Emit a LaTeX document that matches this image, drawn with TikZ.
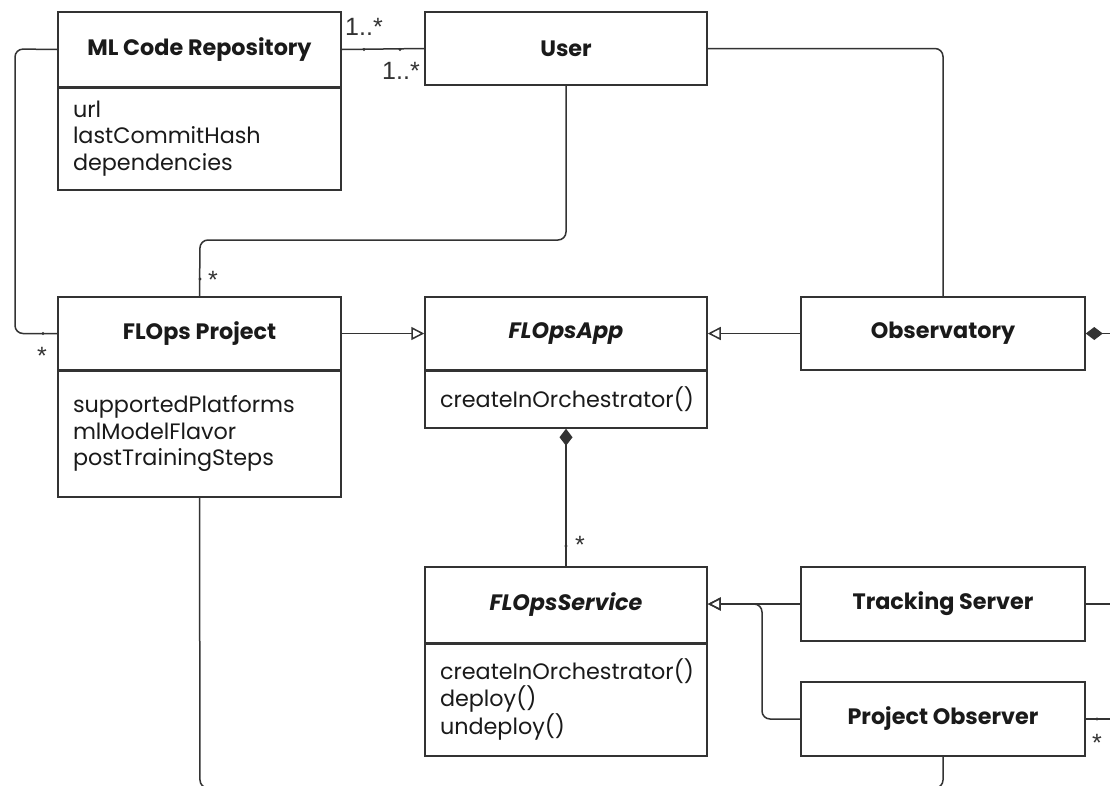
\documentclass[tikz,border=0pt]{standalone}
\usepackage{fontspec}
\setmainfont{Poppins}
\newfontfamily\multfont{Liberation Sans}
\usetikzlibrary{arrows.meta}
\definecolor{ln}{HTML}{333333}
\definecolor{tx}{HTML}{1A1A1A}
\tikzset{
 hdr/.style={draw=ln, line width=1.5pt, fill=white, font=\fontsize{22.3}{26}\selectfont\bfseries, text=tx, minimum width=283pt, inner sep=0pt},
 cbody/.style={draw=ln, line width=1.5pt, fill=white, font=\fontsize{22.3}{26.5}\selectfont, text=tx, minimum width=283pt, text width=253pt, inner xsep=15pt, inner ysep=0pt, align=left},
 divider/.style={draw=ln, line width=3.2pt},
 conn/.style={draw=ln, line width=1.5pt, rounded corners=8pt},
 gen/.style={conn, -{Triangle[open, length=13pt, width=13pt, line width=1.5pt]}},
 comp/.style={conn, {Diamond[length=17pt, width=13pt]}-},
 mult/.style={font=\multfont\fontsize{25}{27}\selectfont, text=ln, inner sep=0pt, anchor=north},
 tick/.style={fill=ln, circle, inner sep=0pt, minimum size=3.2pt}
}
\begin{document}
\begin{tikzpicture}[x=1pt,y=-1pt]
\useasboundingbox[fill=white] (0,0) rectangle (1110,785);
\clip (0,0) rectangle (1110,785);
\coordinate (lcorner) at (15,49);
\coordinate (bottomL) at (200,788);
\coordinate (bottomR) at (943,788);
\coordinate (eObs) at (1110,333.5);
\coordinate (eTS) at (1110,604);
\coordinate (ePO) at (1110,719);

% classes
\node[hdr, minimum height=75pt] (mlh) at (199.5,49.5) {ML Code Repository};
\node[cbody, minimum height=103pt] (mlb) at (199.5,138.5) {url\\lastCommitHash\\dependencies};
\node[hdr, minimum height=73pt, minimum width=282pt] (user) at (566,48.5) {User};
\node[hdr, minimum height=73pt] (fph) at (199.5,333.5) {FLOps Project};
\node[cbody, minimum height=127pt] (fpb) at (199.5,433.5) {supportedPlatforms\\mlModelFlavor\\postTrainingSteps};
\node[hdr, minimum height=73pt, minimum width=282pt] (apph) at (566,333.5) {\itshape FLOpsApp};
\node[cbody, minimum height=58pt, minimum width=282pt, text width=252pt] (appb) at (566,399) {createInOrchestrator()};
\node[hdr, minimum height=73pt, minimum width=284pt] (obs) at (943,333.5) {Observatory};
\node[hdr, minimum height=76pt, minimum width=282pt] (svch) at (566,605) {\itshape FLOpsService};
\node[cbody, minimum height=113pt, minimum width=282pt, text width=252pt] (svcb) at (566,699.5) {createInOrchestrator()\\deploy()\\undeploy()};
\node[hdr, minimum height=74pt, minimum width=284pt] (ts) at (943,604) {Tracking Server};
\node[hdr, minimum height=74pt, minimum width=284pt] (po) at (943,719) {Project Observer};

% dividers
\foreach \n in {mlh,fph,apph,svch}{\draw[divider] (\n.south west) -- (\n.south east);}

% connectors
\draw[conn] (mlh.east) -- (user.west);
\draw[conn] (mlh.west) -- (lcorner) |- (fph.west);
\draw[conn] (user.south) |- (200,240) -- (fph.north);
\draw[conn] (user.east) -| (obs.north);
\draw[gen] (fph.east) -- (apph.west);
\draw[gen] (obs.west) -- (apph.east);
\draw[comp] (obs.east) -- (eObs);
\draw[comp] (appb.south) -- (svch.north);
\draw[gen] (ts.west) -- (svcb.east |- ts.west);
\draw[gen] (po.west) -| (762,604) -- (svcb.east |- ts.west);
\draw[conn] (ts.east) -- (eTS);
\draw[conn] (po.east) -- (ePO);
\draw[conn] (fpb.south) -- (bottomL) -- (bottomR) -- (po.south);

% ticks
\node[tick] (t1) at (364,49.5) {};
\node[tick] (t2) at (400,49.5) {};
\node[tick] (t3) at (43,333.5) {};
\node[tick] (t4) at (200,279) {};
\node[tick] (t5) at (566,546) {};
\node[tick] (t6) at (1097,719) {};

% multiplicities
\node[mult] (m1) at (364,18) {1..*};
\node[mult] (m2) at (401,62) {1..*};
\node[mult] (m3) at (42,347) {*};
\node[mult] (m4) at (213,271) {*};
\node[mult] (m5) at (580,536) {*};
\node[mult] (m6) at (1097,734) {*};
\end{tikzpicture}
\end{document}
